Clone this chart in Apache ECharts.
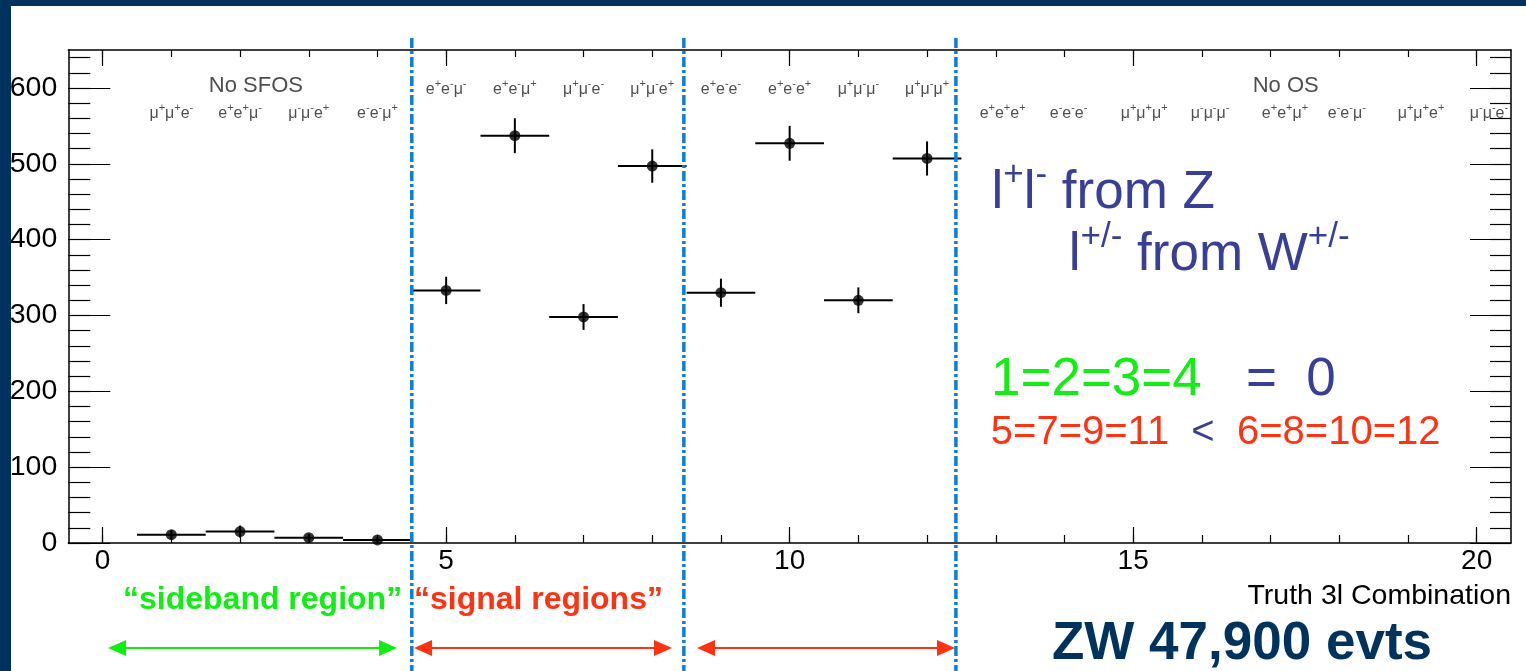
<!DOCTYPE html>
<html>
<head>
<meta charset="utf-8">
<script src="https://cdn.jsdelivr.net/npm/echarts@6/dist/echarts.min.js"></script>
<style>
html, body { margin: 0; padding: 0; width: 1526px; height: 671px; background: #00325e; overflow: hidden; }
#chart { position: absolute; left: 11px; top: 6px; width: 1515px; height: 665px; background: #fff; }
</style>
</head>
<body>
<div id="chart"></div>
<script>
// truth 3l combination, entries per bin
const bins = [1, 2, 3, 4, 5, 6, 7, 8, 9, 10, 11, 12];
const counts = [11, 15, 7, 4, 333, 537, 298, 497, 330, 527, 320, 507];
const errors = [6, 8, 5, 4, 18, 23, 17, 22, 18.5, 23, 17, 22.5];

// charge/flavour labels written above the bins
const comboLabels = ['μ+μ+e-', 'e+e+μ-', 'μ-μ-e+', 'e-e-μ+',
  'e+e-μ-', 'e+e-μ+', 'μ+μ-e-', 'μ+μ-e+', 'e+e-e-', 'e+e-e+', 'μ+μ-μ-', 'μ+μ-μ+',
  'e+e+e+', 'e-e-e-', 'μ+μ+μ+', 'μ-μ-μ-', 'e+e+μ+', 'e-e-μ-', 'μ+μ+e+', 'μ-μ-e-'];
const comboX = [1, 2, 3, 4, 5, 6, 7, 8, 9, 10, 11, 12,
  13.1, 14.06, 15.16, 16.12, 17.21, 18.11, 19.19, 20.18];
const comboY = [568, 568, 568, 568, 600, 600, 600, 600, 600, 600, 600, 600,
  568, 568, 568, 568, 568, 568, 568, 568];
const groupNames = ['No SFOS', 'No OS'];
const groupX = [2.23, 17.22];
const groupY = [603, 603];

// dash-dot region separators
const regionEdges = [4.5, 8.46, 12.42];

const xMajorTicks = [0, 5, 10, 15, 20];
const xMinorTicks = [0, 1, 2, 3, 4, 5, 6, 7, 8, 9, 10, 11, 12, 13, 14, 15, 16, 17, 18, 19, 20];
const yMajorTicks = [0, 100, 200, 300, 400, 500, 600];
const yMinorTicks = [0, 20, 40, 60, 80, 100, 120, 140, 160, 180, 200, 220, 240, 260, 280, 300,
  320, 340, 360, 380, 400, 420, 440, 460, 480, 500, 520, 540, 560, 580, 600, 620, 640];

const FONT = '"Liberation Sans", Arial, Helvetica, sans-serif';
const BLUE = '#383f97';
const GREEN = '#11ee11';
const RED = '#ff3311';
const NAVY = '#00325e';

// "μ+μ-e+" -> rich text with raised signs
function supRich(s, b, p) {
  return s.replace(/([+\-\/]+)|([^+\-\/]+)/g, function (m, sign, txt) {
    return sign ? '{' + p + '|' + sign + '}' : '{' + b + '|' + txt + '}';
  });
}

const tickStyle = { color: '#000', width: 1.2 };
const frameStyle = { color: '#000', width: 1.5 };

function xAx(pos, len, ticks, main) {
  return {
    type: 'value', min: -0.5, max: 20.5, position: pos,
    splitLine: { show: false },
    axisLine: { show: main, onZero: false, lineStyle: frameStyle },
    axisTick: { show: true, inside: true, length: len, customValues: ticks, lineStyle: tickStyle },
    axisLabel: {
      show: main && pos === 'bottom', customValues: xMajorTicks, margin: 4,
      fontSize: 28, color: '#000', fontFamily: FONT
    }
  };
}
function yAx(pos, len, ticks, main) {
  return {
    type: 'value', min: 0, max: 650, position: pos,
    splitLine: { show: false },
    axisLine: { show: main, onZero: false, lineStyle: frameStyle },
    axisTick: { show: true, inside: true, length: len, customValues: ticks, lineStyle: tickStyle },
    axisLabel: {
      show: main && pos === 'left', customValues: yMajorTicks, margin: 11,
      fontSize: 28.5, color: '#000', fontFamily: FONT
    }
  };
}

const chart = echarts.init(document.getElementById('chart'));

const smallRich = {
  b: { fontSize: 16, lineHeight: 19, verticalAlign: 'bottom', color: '#222', fontFamily: FONT },
  s: { fontSize: 11, verticalAlign: 'top', color: '#222', fontFamily: FONT }
};
const bigRich = {
  b: { fontSize: 53, lineHeight: 62, verticalAlign: 'bottom', fill: BLUE, fontFamily: FONT },
  s: { fontSize: 35, verticalAlign: 'top', fill: BLUE, fontFamily: FONT }
};

chart.setOption({
  animation: false,
  grid: { left: 57.3, top: 44, right: 15, bottom: 128, containLabel: false, outerBoundsMode: 'none' },
  xAxis: [
    xAx('bottom', 16, xMajorTicks, true),
    xAx('bottom', 8, xMinorTicks, false),
    xAx('top', 16, xMajorTicks, true),
    xAx('top', 7, xMinorTicks, false)
  ],
  yAxis: [
    yAx('left', 42, yMajorTicks, true),
    yAx('left', 22, yMinorTicks, false),
    yAx('right', 41, yMajorTicks, true),
    yAx('right', 21, yMinorTicks, false)
  ],
  series: [
    {
      // horizontal bin width + vertical stat. error
      type: 'custom',
      z: 3,
      silent: true,
      data: bins.map((b, i) => [b, counts[i], errors[i]]),
      renderItem: function (params, api) {
        const x = api.value(0), y = api.value(1), e = api.value(2);
        const l = api.coord([x - 0.5, y]), r = api.coord([x + 0.5, y]);
        const t = api.coord([x, y + e]), d = api.coord([x, y - e]);
        return {
          type: 'group',
          children: [
            { type: 'line', shape: { x1: l[0], y1: l[1], x2: r[0], y2: r[1] }, style: { stroke: '#000', lineWidth: 2 } },
            { type: 'line', shape: { x1: t[0], y1: t[1], x2: d[0], y2: d[1] }, style: { stroke: '#000', lineWidth: 2 } }
          ]
        };
      }
    },
    {
      type: 'scatter',
      z: 4,
      silent: true,
      symbolSize: 11,
      itemStyle: { color: '#000' },
      data: bins.map((b, i) => [b, counts[i]])
    },
    {
      type: 'scatter',
      z: 5,
      silent: true,
      symbolSize: 0,
      itemStyle: { color: 'rgba(0,0,0,0)' },
      label: {
        show: true, position: 'inside',
        formatter: p => supRich(p.name, 'b', 's'),
        rich: smallRich
      },
      data: comboLabels.map((n, i) => ({ name: n, value: [comboX[i], comboY[i]] }))
    },
    {
      type: 'scatter',
      z: 5,
      silent: true,
      symbolSize: 0,
      itemStyle: { color: 'rgba(0,0,0,0)' },
      label: {
        show: true, position: 'inside', formatter: p => p.name,
        fontSize: 22, color: '#222', fontFamily: FONT
      },
      data: groupNames.map((n, i) => ({ name: n, value: [groupX[i], groupY[i]] }))
    },
    {
      type: 'custom',
      z: 10,
      silent: true,
      data: regionEdges.map(x => [x, 0]),
      renderItem: function (params, api) {
        const x = api.coord([api.value(0), 0])[0];
        return {
          type: 'line',
          shape: { x1: x, y1: 32, x2: x, y2: 665 },
          style: { stroke: '#0b7dda', lineWidth: 3.5, lineDash: [10, 3, 3, 3] }
        };
      }
    }
  ],
  graphic: [
    {
      type: 'text', x: 980.5, y: 183, z: 20,
      style: { text: supRich('l+l- from Z', 'b', 's'), align: 'left', verticalAlign: 'middle', rich: bigRich }
    },
    {
      type: 'text', x: 1057.8, y: 245, z: 20,
      style: { text: supRich('l+/- from W+/-', 'b', 's'), align: 'left', verticalAlign: 'middle', rich: bigRich }
    },
    {
      type: 'text', x: 980, y: 374.8, z: 20,
      style: {
        text: '{g|1=2=3=4}{b|   =  0}', align: 'left', verticalAlign: 'middle',
        rich: {
          g: { fontSize: 53, fill: GREEN, fontFamily: FONT },
          b: { fontSize: 53, fill: BLUE, fontFamily: FONT }
        }
      }
    },
    {
      type: 'text', x: 979.8, y: 426.5, z: 20,
      style: {
        text: '{r|5=7=9=11}{b|  <  }{r|6=8=10=12}', align: 'left', verticalAlign: 'middle',
        rich: {
          r: { fontSize: 40, fill: RED, fontFamily: FONT },
          b: { fontSize: 40, fill: BLUE, fontFamily: FONT }
        }
      }
    },
    {
      type: 'text', x: 1500, y: 590.6, z: 20,
      style: { text: 'Truth 3l Combination', align: 'right', verticalAlign: 'middle', fontSize: 28.5, fill: '#000', fontFamily: FONT }
    },
    {
      type: 'text', x: 1231, y: 638, z: 20,
      style: { text: 'ZW 47,900 evts', align: 'center', verticalAlign: 'middle', fontSize: 53, fontWeight: 'bold', fill: NAVY, fontFamily: FONT }
    },
    {
      type: 'text', x: 112, y: 594, z: 20,
      style: { text: '\u201Csideband region\u201D', align: 'left', verticalAlign: 'middle', fontSize: 32, fontWeight: 'bold', fill: GREEN, fontFamily: FONT }
    },
    {
      type: 'text', x: 403, y: 594, z: 20,
      style: { text: '\u201Csignal regions\u201D', align: 'left', verticalAlign: 'middle', fontSize: 32, fontWeight: 'bold', fill: RED, fontFamily: FONT }
    },
    // double-headed arrows under the regions
    {
      type: 'group', z: 20,
      children: [
        { type: 'line', shape: { x1: 110, y1: 642, x2: 370, y2: 642 }, style: { stroke: GREEN, lineWidth: 2 } },
        { type: 'polygon', shape: { points: [[97, 642], [115, 634], [115, 650]] }, style: { fill: GREEN } },
        { type: 'polygon', shape: { points: [[386, 642], [368, 634], [368, 650]] }, style: { fill: GREEN } },
        { type: 'line', shape: { x1: 415, y1: 642, x2: 650, y2: 642 }, style: { stroke: RED, lineWidth: 2 } },
        { type: 'polygon', shape: { points: [[403, 642], [421, 634], [421, 650]] }, style: { fill: RED } },
        { type: 'polygon', shape: { points: [[661, 642], [643, 634], [643, 650]] }, style: { fill: RED } },
        { type: 'line', shape: { x1: 698, y1: 642, x2: 932, y2: 642 }, style: { stroke: RED, lineWidth: 2 } },
        { type: 'polygon', shape: { points: [[686, 642], [704, 634], [704, 650]] }, style: { fill: RED } },
        { type: 'polygon', shape: { points: [[944, 642], [926, 634], [926, 650]] }, style: { fill: RED } }
      ]
    }
  ]
});
</script>
</body>
</html>
